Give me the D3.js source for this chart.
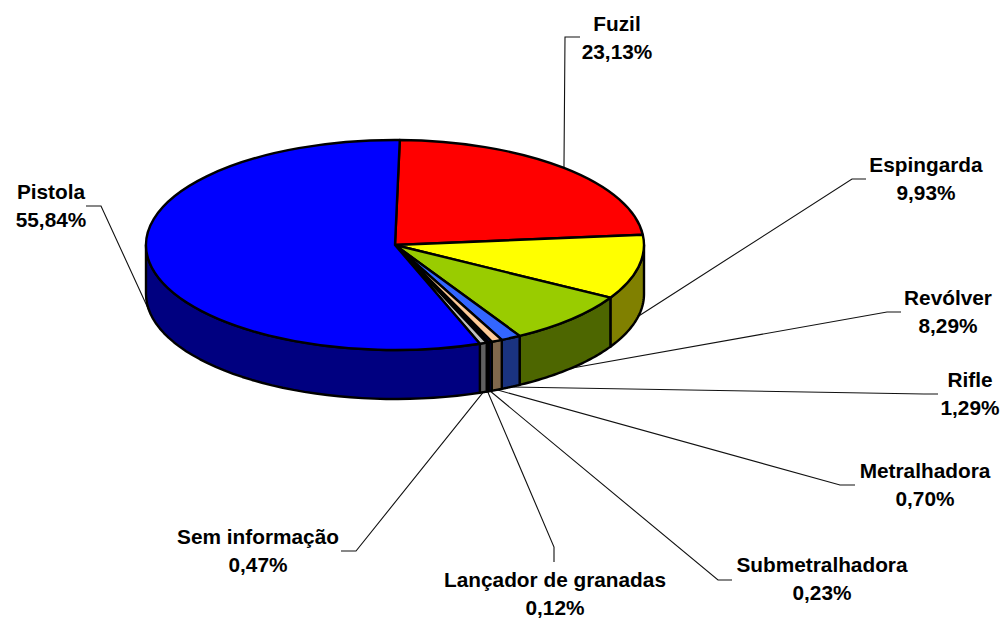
<!DOCTYPE html>
<html><head><meta charset="utf-8">
<script src="https://cdn.jsdelivr.net/npm/d3@7"></script>
<style>html,body{margin:0;padding:0;background:#fff}svg{display:block}
text{font-family:"Liberation Sans",Arial,sans-serif;font-weight:bold;font-size:20.8px;fill:#000;text-anchor:middle}</style>
</head><body><script>
const categories = ["Fuzil","Espingarda","Revólver","Rifle","Metralhadora","Submetralhadora","Lançador de granadas","Sem informação","Pistola"];
const values = [23.13,9.93,8.29,1.29,0.70,0.23,0.12,0.47,55.84];
const topColors = ["#ff0000","#ffff00","#99cc00","#3366ff","#ffcc99","#000080","#ffff66","#c0c0c0","#0000ff"];
const sideColors = ["#800000","#808000","#4d6600","#1a3380","#80664d","#000040","#808033","#606060","#000080"];

// Layout (annotation geometry, not data)
const W = 1003, H = 619, cx = 395, cy = 245, rx = 249, ry = 105, depth = 49, startDeg = 1.1;
const labelPos = [[617,31],[926,172],[948,305],[970,387],[925,478],[822,572],[555,587],[258,544],[51,199]];
const leaderBend = [
 [[565,37],[580,37]],[[852,179],[866,179]],[[887,312],[901,312]],[[924,394],[938,394]],
 [[840,485],[855,485]],[[718,580],[732,580]],[[554,547],[554,562]],[[356,551],[341,551]],[[101,206],[86,206]]];

const svg = d3.select("body").append("svg").attr("width",W).attr("height",H);
const rad = d3.scaleLinear().domain([0,360]).range([0,2*Math.PI]);
const pie = d3.pie().sort(null).startAngle(rad(startDeg)).endAngle(rad(startDeg+360));
const arcs = pie(values);
const px = t => cx + rx*Math.sin(t), py = t => cy - ry*Math.cos(t);
const line = d3.line();

// Leaders (under the pie)
const leaders = svg.append("g");
arcs.forEach((a,i)=>{
  const m=(a.startAngle+a.endAngle)/2;
  const front = Math.cos(m)<0;
  const pts=[[px(m),py(m)+(front?depth:0)],...leaderBend[i]];
  leaders.append("path").attr("d",line(pts)).attr("fill","none").attr("stroke","#111").attr("stroke-width",1.1);
});

// Side walls: visible part of each slice, between right and left extremes of the ellipse
const lo=rad(90), hi=rad(270);
const walls=svg.append("g");
arcs.forEach((a,i)=>{
  const s=Math.max(a.startAngle,lo), e=Math.min(a.endAngle,hi);
  if(e<=s) return;
  const ts=d3.range(0,41).map(k=>s+(e-s)*k/40);
  const upper=ts.map(t=>[px(t),py(t)]);
  const lower=ts.slice().reverse().map(t=>[px(t),py(t)+depth]);
  walls.append("path").attr("d",line([...upper,...lower])+"Z")
    .attr("fill",sideColors[i]).attr("stroke","#000").attr("stroke-width",2.4).attr("stroke-linejoin","round");
});

// Top face: a circular pie flattened into an ellipse
const arc=d3.arc().innerRadius(0).outerRadius(rx);
svg.append("g").attr("transform",`translate(${cx},${cy}) scale(1,${ry/rx})`)
  .selectAll("path").data(arcs).join("path")
  .attr("d",arc).attr("fill",(d,i)=>topColors[i])
  .attr("stroke","#000").attr("stroke-width",2.4).attr("stroke-linejoin","round")
  .attr("vector-effect","non-scaling-stroke");

// Labels
const fmt=v=>d3.format(".2f")(v).replace(".",",")+"%";
const labels=svg.append("g");
categories.forEach((c,i)=>{
  const [x,y]=labelPos[i];
  labels.append("text").attr("x",x).attr("y",y).text(c);
  labels.append("text").attr("x",x).attr("y",y+27.5).text(fmt(values[i]));
});
</script></body></html>
